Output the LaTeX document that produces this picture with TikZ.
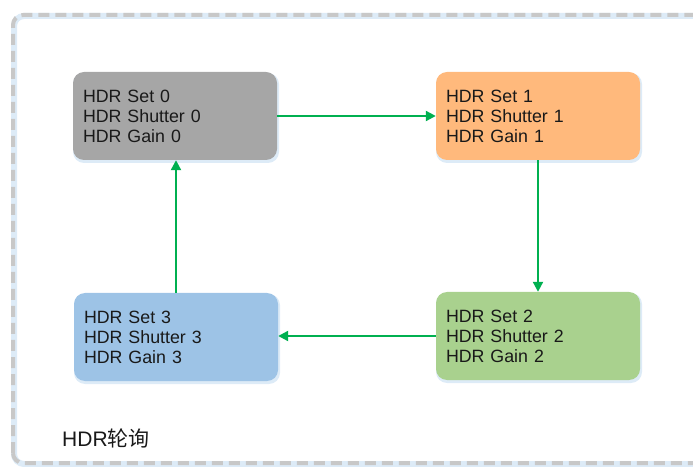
\documentclass[tikz,border=0pt]{standalone}
\usepackage{fontspec}
\setmainfont{Liberation Sans}
\newfontfamily\cjk{Noto Sans CJK SC}
\usetikzlibrary{arrows.meta}
\definecolor{gbox}{HTML}{A6A6A6}
\definecolor{obox}{HTML}{FFB97C}
\definecolor{grbox}{HTML}{A9D18E}
\definecolor{bbox}{HTML}{9DC3E6}
\definecolor{arr}{HTML}{00B050}
\definecolor{brd}{HTML}{C8C8C8}
\definecolor{glow}{HTML}{DDEBF7}
\tikzset{
  hdrbox/.style={rectangle, rounded corners=11pt, minimum width=204pt, minimum height=88pt,
    text width=184pt, align=left, inner sep=0pt, font=\fontsize{17.8pt}{20pt}\selectfont,
    text=black!90},
  glowbox/.style={rectangle, rounded corners=11pt, minimum width=206pt, minimum height=90pt, fill=glow},
  flow/.style={draw=arr, line width=2.2pt, -{Triangle[length=10pt,width=10pt]}},
}
\begin{document}
\begin{tikzpicture}[x=1pt,y=1pt]
\useasboundingbox (0,0) rectangle (693,466);
\begin{scope}
\clip (0,0) rectangle (693,466);
\draw[glow, line width=6pt, rounded corners=10pt] (14,2) rectangle (710,450);
\draw[brd, line width=4pt, dash pattern=on 11pt off 6pt, rounded corners=10pt] (13,3) rectangle (710,451);
\end{scope}
\node[glowbox] at (176,348) {};
\node[glowbox] at (539,348) {};
\node[glowbox] at (539,128) {};
\node[glowbox] at (177,127) {};
\node[hdrbox, fill=gbox] (s0) at (175,350) {HDR Set 0\\HDR Shutter 0\\HDR Gain 0};
\node[hdrbox, fill=obox] (s1) at (538,350) {HDR Set 1\\HDR Shutter 1\\HDR Gain 1};
\node[hdrbox, fill=grbox] (s2) at (538,130) {HDR Set 2\\HDR Shutter 2\\HDR Gain 2};
\node[hdrbox, fill=bbox] (s3) at (176,129) {HDR Set 3\\HDR Shutter 3\\HDR Gain 3};
\draw[flow] (s0.east) -- (s1.west);
\draw[flow] (s1.south) -- (s2.north);
\draw[flow] (s2.west) -- (s3.east |- s2.west);
\draw[flow] (s3.north) -- (s3.north |- s0.south);
\node[anchor=west, inner sep=0pt, font=\fontsize{21pt}{24pt}\selectfont, text=black!90] (lbl) at (62,28) {HDR{\cjk 轮询}};
\end{tikzpicture}
\end{document}
